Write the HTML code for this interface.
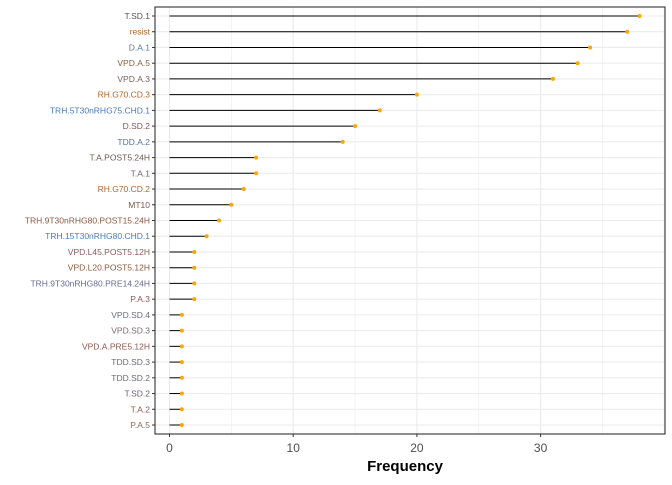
<!DOCTYPE html>
<html><head><meta charset="utf-8"><style>
body{margin:0;background:#fff;font-family:"Liberation Sans",sans-serif}
</style></head><body>
<svg id="chart" width="672" height="480" xmlns="http://www.w3.org/2000/svg"></svg>
<script>
const categories=["T.SD.1","resist","D.A.1","VPD.A.5","VPD.A.3","RH.G70.CD.3","TRH.5T30nRHG75.CHD.1","D.SD.2","TDD.A.2","T.A.POST5.24H","T.A.1","RH.G70.CD.2","MT10","TRH.9T30nRHG80.POST15.24H","TRH.15T30nRHG80.CHD.1","VPD.L45.POST5.12H","VPD.L20.POST5.12H","TRH.9T30nRHG80.PRE14.24H","P.A.3","VPD.SD.4","VPD.SD.3","VPD.A.PRE5.12H","TDD.SD.3","TDD.SD.2","T.SD.2","T.A.2","P.A.5"];
const values=[38,37,34,33,31,20,17,15,14,7,7,6,5,4,3,2,2,2,2,1,1,1,1,1,1,1,1];
const labelColors=["#555","#b0652a","#5a78a8","#8a6040","#7a6060","#b0652a","#4a7ab5","#7a5a50","#5a70a0","#6a5a50","#6a6070","#b0652a","#7a5a50","#8a5a40","#4a7ab5","#8a5a60","#8a5a40","#6a6a90","#8a5a50","#6a6a80","#7a6a70","#8a5a50","#6a6a80","#6a6a80","#6a6070","#8a5a50","#8a6a60"];
const xTicks=[0,10,20,30];
const ns="http://www.w3.org/2000/svg";
const svg=document.getElementById("chart");
const L=155,R=665,T=7,B=434;
const x0=169.5,ppu=12.37;
const xs=v=>x0+v*ppu;
const n=categories.length;
const step=(425-16)/(n-1);
const ys=i=>16+i*step;
function mk(tag,attrs,parent){const e=document.createElementNS(ns,tag);for(const k in attrs)e.setAttribute(k,attrs[k]);(parent||svg).appendChild(e);return e;}
// grid
for(let v=0;v<=40;v+=5){const x=xs(v);if(x>R)break;
const g=mk("line",{x1:x,x2:x,y1:T,y2:B,stroke:"#ebebeb","stroke-width":v%10===0?1.1:0.6});

}
categories.forEach((c,i)=>{
const g=mk("line",{x1:L,x2:R,y1:ys(i),y2:ys(i),stroke:"#ebebeb","stroke-width":1.1});

});
// marks
categories.forEach((c,i)=>{
const y=ys(i);
const s=mk("line",{x1:xs(0),x2:xs(values[i]),y1:y,y2:y,stroke:"#000","stroke-width":1});


const d=mk("circle",{cx:xs(values[i]),cy:y,r:2,fill:"#ffa500"});


const tk=mk("line",{x1:L-3,x2:L,y1:y,y2:y,stroke:"#333","stroke-width":1});


const t=mk("text",{x:L-5,y:y+3,"text-anchor":"end","font-size":"8.5",fill:labelColors[i]});
t.textContent=c;


});
xTicks.forEach(v=>{
const tk=mk("line",{x1:xs(v),x2:xs(v),y1:B,y2:B+3,stroke:"#333","stroke-width":1});


const t=mk("text",{x:xs(v),y:452,"text-anchor":"middle","font-size":"12",fill:"#4d4d4d"});
t.textContent=v;


});
const border=mk("rect",{x:L,y:T,width:R-L,height:B-T,fill:"none",stroke:"#333","stroke-width":1.1});


const xt=mk("text",{x:405,y:471,"text-anchor":"middle","font-size":"15","font-weight":"bold",fill:"#000"});
xt.textContent="Frequency";


</script>
</body></html>
